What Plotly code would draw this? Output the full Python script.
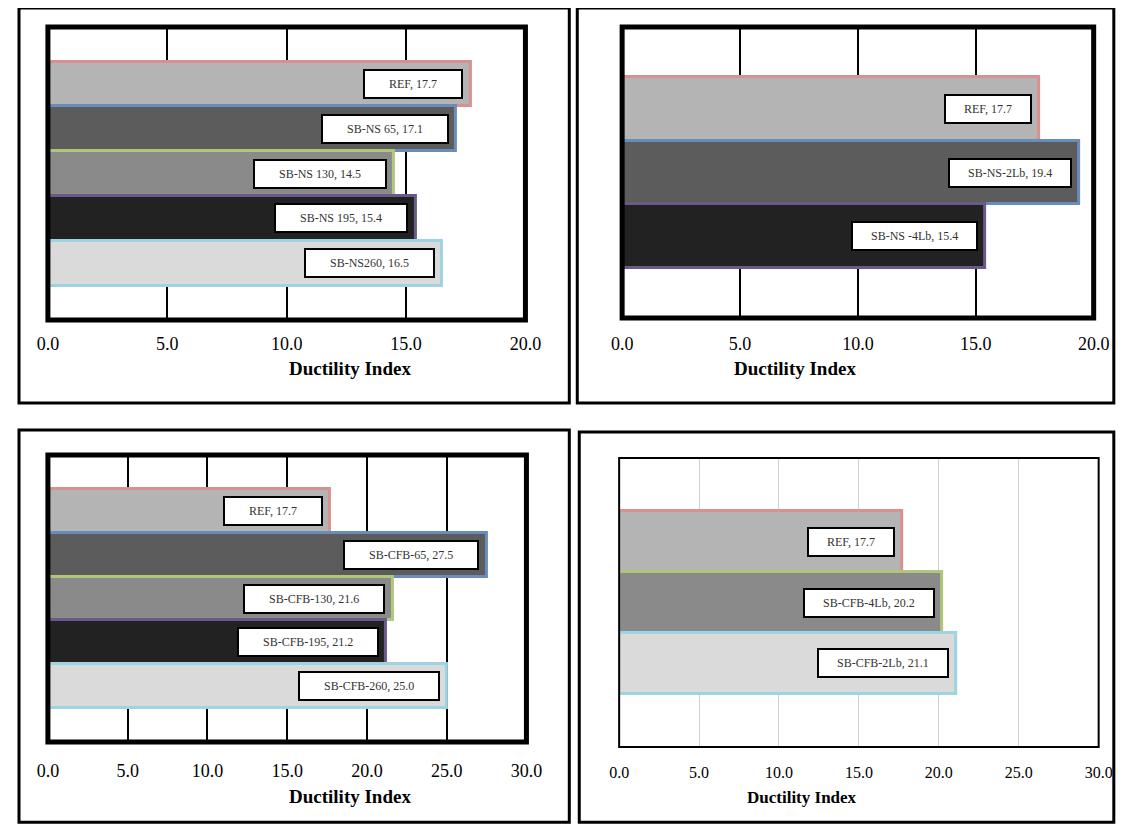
import plotly.graph_objects as go

# the page shows the figure inside a small margin; work in window pixels and map back
W, H = 1124, 816
SX, OX = 0.979, 18.0
OY = 8.0

# panel data
ns_labels = ['REF', 'SB-NS 65', 'SB-NS 130', 'SB-NS 195', 'SB-NS260']
ns_values = [17.7, 17.1, 14.5, 15.4, 16.5]
nslb_labels = ['REF', 'SB-NS-2Lb', 'SB-NS -4Lb']
nslb_values = [17.7, 19.4, 15.4]
cfb_labels = ['REF', 'SB-CFB-65', 'SB-CFB-130', 'SB-CFB-195', 'SB-CFB-260']
cfb_values = [17.7, 27.5, 21.6, 21.2, 25.0]
cfblb_labels = ['REF', 'SB-CFB-4Lb', 'SB-CFB-2Lb']
cfblb_values = [17.7, 20.2, 21.1]

fills = {'REF': '#b4b4b4', '65': '#5c5c5c', '130': '#8a8a8a', '195': '#222222', '260': '#dadada'}
edges = {'REF': '#d89090', '65': '#6a8cba', '130': '#b0c67a', '195': '#6a5a8a', '260': '#9dd3e2'}

def style_key(lbl, panel):
    if lbl == 'REF':
        return 'REF'
    if panel == 'nslb':
        return '65' if '2Lb' in lbl else '195'
    if panel == 'cfblb':
        return '130' if '4Lb' in lbl else '260'
    for k in ['260', '195', '130', '65']:
        if k in lbl:
            return k

def px(x):
    return min(max((x - OX) / SX / W, 0), 1)

def py(y):
    return min(max(1 - (y - OY) / H, 0), 1)

panels = [
    dict(name='ns', labels=ns_labels, values=ns_values, plot=(47, 526, 27, 320),
         frame=(8, 570, 2, 403), pad=0.77, xmax=20, grid='black', border=5, tick_y=343, title_y=368, big=True),
    dict(name='nslb', labels=nslb_labels, values=nslb_values, plot=(623, 1096, 27, 318),
         frame=(578, 1140, 2, 403), pad=0.78, xmax=20, grid='black', border=5, tick_y=343, title_y=368, big=True),
    dict(name='cfb', labels=cfb_labels, values=cfb_values, plot=(47, 527, 455, 742),
         frame=(8, 570, 430, 830), pad=0.79, xmax=30, grid='black', border=5, tick_y=770, title_y=809, big=True),
    dict(name='cfblb', labels=cfblb_labels, values=cfblb_values, plot=(620, 1101, 458, 747),
         frame=(580, 1140, 432, 832), pad=0.87, xmax=30, grid='#d0d0d0', border=2, tick_y=773, title_y=809, big=False),
]

fig = go.Figure()
shapes, annots = [], []
layout = {}
for i, p in enumerate(panels):
    n = len(p['labels'])
    ax = '' if i == 0 else str(i + 1)
    x0, x1, y0, y1 = p['plot']
    ypos = [n - 1 - k for k in range(n)]
    keys = [style_key(l, p['name']) for l in p['labels']]
    fig.add_trace(go.Bar(
        x=p['values'], y=ypos, orientation='h', width=1,
        marker=dict(color=[fills[k] for k in keys],
                    line=dict(color=[edges[k] for k in keys], width=3)),
        xaxis='x' + ax, yaxis='y' + ax, showlegend=False, hoverinfo='skip'))
    layout['xaxis' + ax] = dict(
        domain=[px(x0), px(x1)], range=[0, p['xmax']], dtick=5, tickformat='.1f',
        showgrid=True, gridcolor=p['grid'], gridwidth=2 if p['grid'] == 'black' else 1,
        zeroline=False, showline=False, ticks='', anchor='y' + ax,
        ticklabelstandoff=p['tick_y'] - y1 - 12,
        tickfont=dict(family='Liberation Serif', size=18 if p['big'] else 16, color='black'))
    layout['yaxis' + ax] = dict(
        domain=[py(y1), py(y0)], range=[-0.5 - p['pad'], n - 0.5 + p['pad']],
        showticklabels=False, showgrid=False, zeroline=False, anchor='x' + ax)
    shapes.append(dict(type='rect', xref='x' + ax + ' domain', yref='y' + ax + ' domain',
                       x0=0, x1=1, y0=0, y1=1, line=dict(color='black', width=p['border'])))
    fx0, fx1, fy0, fy1 = p['frame']
    shapes.append(dict(type='rect', xref='paper', yref='paper', x0=px(fx0), x1=min(px(fx1), 0.998),
                       y0=max(py(fy1), 0.002), y1=py(fy0), line=dict(color='black', width=3)))
    annots.append(dict(text='<b>Ductility Index</b>', xref='paper', yref='paper',
                       x=px((x0 + x1) / 2), y=py(p['title_y']), showarrow=False,
                       font=dict(family='Liberation Serif', size=19 if p['big'] else 17, color='black')))
    sp = '\u00a0' * (6 if n == 5 else 4)
    for k in range(n):
        v = p['values'][k]
        annots.append(dict(text=sp + '%s, %.1f' % (p['labels'][k], v) + sp, xref='x' + ax, yref='y' + ax,
                           x=v - p['xmax'] * 0.015, y=ypos[k], xanchor='right', showarrow=False,
                           bgcolor='white', bordercolor='black', borderwidth=2, borderpad=6,
                           font=dict(family='Liberation Serif', size=12, color='#333')))

fig.update_layout(width=W, height=H, margin=dict(l=0, r=0, t=0, b=0),
                  plot_bgcolor='white', paper_bgcolor='white', bargap=0,
                  shapes=shapes, annotations=annots, **layout)
fig.write_html('out.html')
